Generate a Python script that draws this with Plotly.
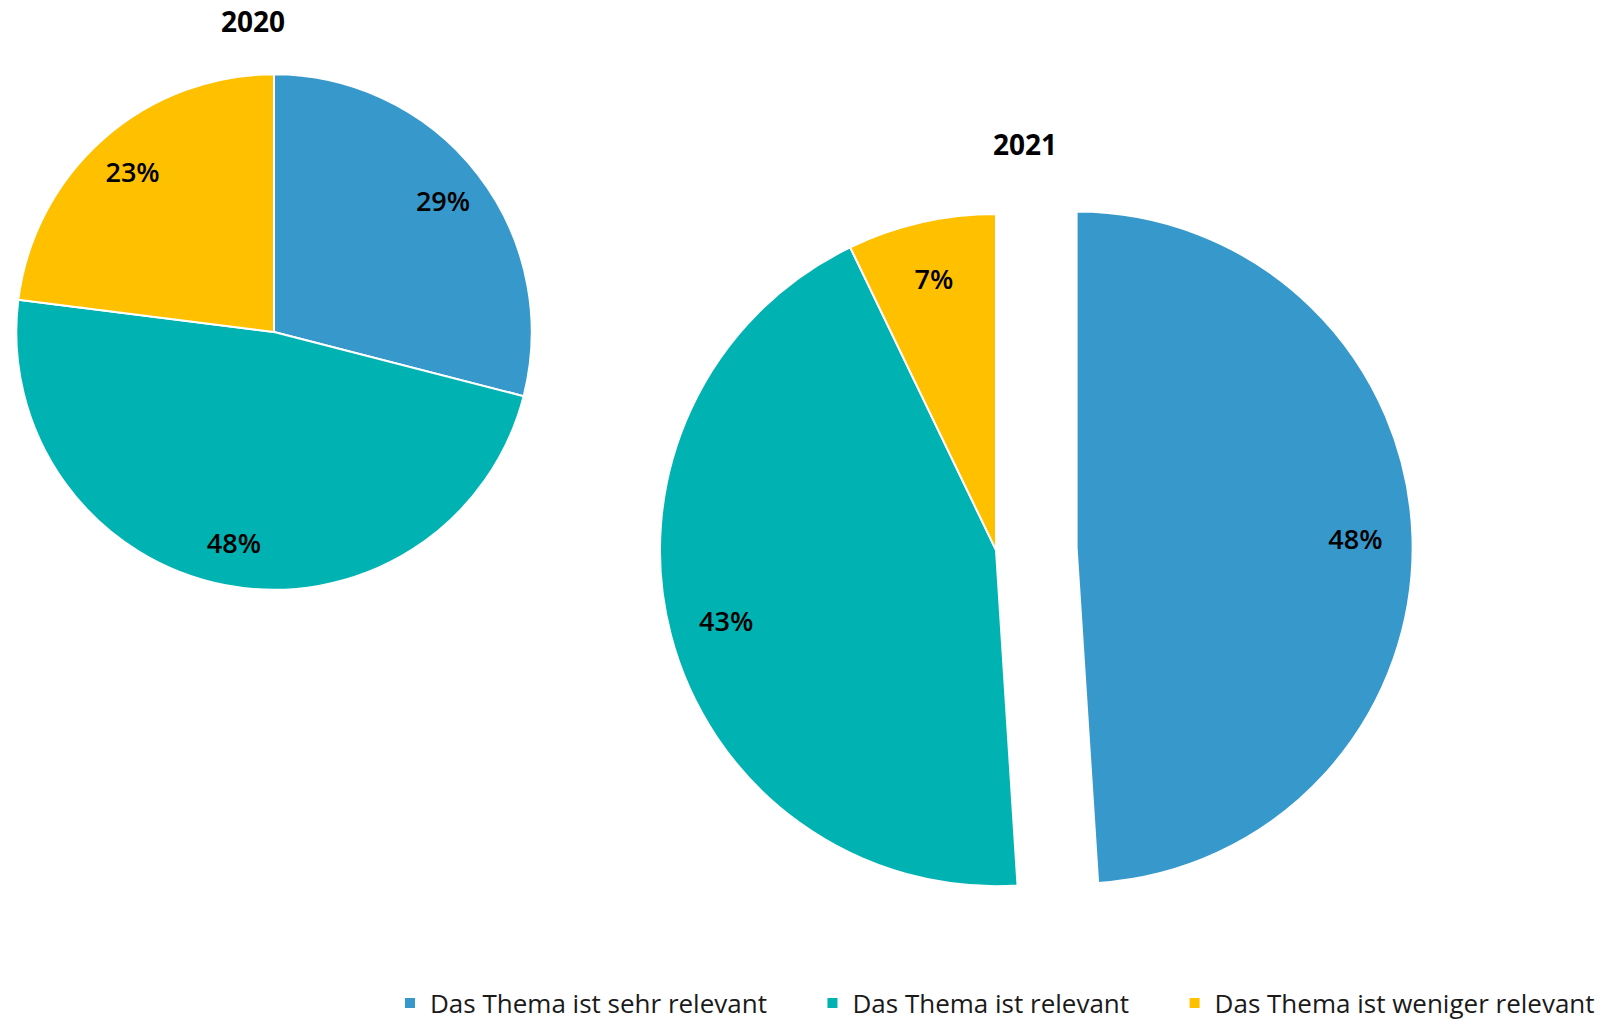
import plotly.graph_objects as go

categories = ["Das Thema ist sehr relevant", "Das Thema ist relevant", "Das Thema ist weniger relevant"]
values_2020 = [29, 48, 23]
values_2021 = [48, 43, 7]
years = ["2020", "2021"]
colors = ["#3798CC", "#00B2B2", "#FFC000"]

W, H = 1613, 1027

# trailing non-breaking spaces widen the gap between legend entries
legend_labels = [c + "\u00a0" * 6 for c in categories[:-1]] + [categories[-1]]


def dom(cx, cy, half):
    return dict(x=[(cx - half) / W, (cx + half) / W],
                y=[1 - (cy + half) / H, 1 - (cy - half) / H])


label_font = dict(family="Open Sans", size=27, color="black", weight=600)
transparent = ["rgba(0,0,0,0)"] * len(categories)

specs = [
    (values_2020, dom(274, 335, 260), [0, 0, 0], True),
    (values_2021, dom(996, 555, 339 * 1.24), [0.24, 0, 0], False),
]

fig = go.Figure()
for vals, d, pull, show in specs:
    # coloured slices
    fig.add_trace(go.Pie(
        labels=legend_labels, values=vals, sort=False, direction="clockwise", rotation=0,
        marker=dict(colors=colors, line=dict(color="white", width=2)),
        textinfo="none", pull=pull, domain=d,
        hoverinfo="label+percent", showlegend=show,
    ))
    # percentage labels placed in the outer ring
    fig.add_trace(go.Pie(
        labels=legend_labels, values=vals, sort=False, direction="clockwise", rotation=0,
        hole=0.66,
        marker=dict(colors=transparent, line=dict(width=0)),
        text=[f"{v}%" for v in vals], textinfo="text", textposition="inside",
        insidetextorientation="horizontal", textfont=label_font,
        pull=pull, domain=d, hoverinfo="skip", showlegend=False,
    ))

title_pos = [(253, 21), (1025, 145)]
for yr, (tx, ty) in zip(years, title_pos):
    fig.add_annotation(x=tx / W, y=1 - ty / H, xref="paper", yref="paper",
                       xanchor="center", yanchor="middle",
                       text="<b>" + yr + "</b>", showarrow=False,
                       font=dict(family="Open Sans", size=28, color="black"))

fig.update_layout(
    width=W, height=H, margin=dict(l=0, r=0, t=0, b=0),
    paper_bgcolor="white", plot_bgcolor="white",
    legend=dict(orientation="h", x=390 / W, xanchor="left",
                y=1 - 1012 / H, yanchor="middle",
                font=dict(family="Open Sans", size=26, color="#1a1a1a"),
                traceorder="normal"),
)
fig.write_html("out.html", config={"displayModeBar": False},
               post_script="document.body.style.margin='0';")
